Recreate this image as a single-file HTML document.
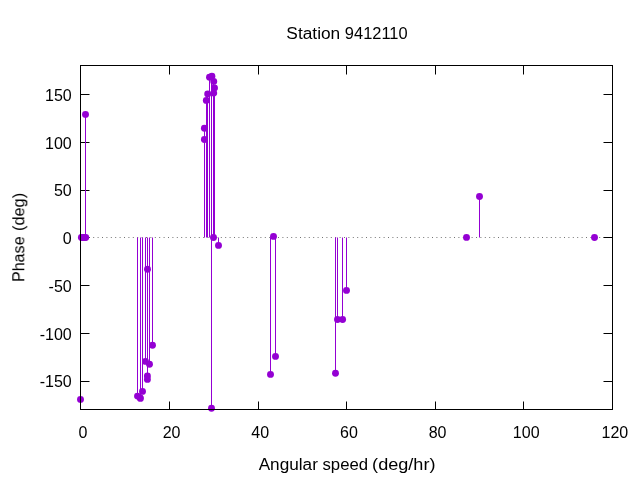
<!DOCTYPE html>
<html><head><meta charset="utf-8"><title>Station 9412110</title>
<style>
html,body{margin:0;padding:0;background:#fff;}
svg{display:block;}
text{font-family:"Liberation Sans",sans-serif;font-size:16px;fill:#000;}
</style></head>
<body>
<svg width="640" height="480" viewBox="0 0 640 480">
<rect x="0" y="0" width="640" height="480" fill="#ffffff"/>
<line x1="80" y1="237.5" x2="612.5" y2="237.5" stroke="#000" stroke-opacity="0.55" stroke-width="1" stroke-dasharray="1 3.4"/>
<g stroke="#000" stroke-width="1" fill="none">
<line x1="80.5" y1="381.5" x2="89.5" y2="381.5"/><line x1="612.5" y1="381.5" x2="603.5" y2="381.5"/>
<line x1="80.5" y1="333.5" x2="89.5" y2="333.5"/><line x1="612.5" y1="333.5" x2="603.5" y2="333.5"/>
<line x1="80.5" y1="285.5" x2="89.5" y2="285.5"/><line x1="612.5" y1="285.5" x2="603.5" y2="285.5"/>
<line x1="80.5" y1="237.5" x2="89.5" y2="237.5"/><line x1="612.5" y1="237.5" x2="603.5" y2="237.5"/>
<line x1="80.5" y1="190.5" x2="89.5" y2="190.5"/><line x1="612.5" y1="190.5" x2="603.5" y2="190.5"/>
<line x1="80.5" y1="142.5" x2="89.5" y2="142.5"/><line x1="612.5" y1="142.5" x2="603.5" y2="142.5"/>
<line x1="80.5" y1="94.5" x2="89.5" y2="94.5"/><line x1="612.5" y1="94.5" x2="603.5" y2="94.5"/>
<line x1="80.5" y1="409.5" x2="80.5" y2="401.5"/><line x1="80.5" y1="65.5" x2="80.5" y2="74.5"/>
<line x1="169.5" y1="409.5" x2="169.5" y2="401.5"/><line x1="169.5" y1="65.5" x2="169.5" y2="74.5"/>
<line x1="258.5" y1="409.5" x2="258.5" y2="401.5"/><line x1="258.5" y1="65.5" x2="258.5" y2="74.5"/>
<line x1="346.5" y1="409.5" x2="346.5" y2="401.5"/><line x1="346.5" y1="65.5" x2="346.5" y2="74.5"/>
<line x1="435.5" y1="409.5" x2="435.5" y2="401.5"/><line x1="435.5" y1="65.5" x2="435.5" y2="74.5"/>
<line x1="523.5" y1="409.5" x2="523.5" y2="401.5"/><line x1="523.5" y1="65.5" x2="523.5" y2="74.5"/>
<line x1="612.5" y1="409.5" x2="612.5" y2="401.5"/><line x1="612.5" y1="65.5" x2="612.5" y2="74.5"/>
</g>
<g stroke="#9400d3" stroke-width="1" fill="none">
<line x1="80.5" y1="237.5" x2="80.5" y2="399.4"/>
<line x1="85.5" y1="237.5" x2="85.5" y2="114.4"/>
<line x1="137.5" y1="237.5" x2="137.5" y2="396.1"/>
<line x1="140.5" y1="237.5" x2="140.5" y2="398.4"/>
<line x1="142.5" y1="237.5" x2="142.5" y2="391.4"/>
<line x1="145.5" y1="237.5" x2="145.5" y2="361.4"/>
<line x1="147.5" y1="237.5" x2="147.5" y2="379.4"/>
<line x1="149.5" y1="237.5" x2="149.5" y2="364.2"/>
<line x1="152.5" y1="237.5" x2="152.5" y2="345.3"/>
<line x1="204.5" y1="237.5" x2="204.5" y2="128.3"/>
<line x1="206.5" y1="237.5" x2="206.5" y2="100.4"/>
<line x1="207.5" y1="237.5" x2="207.5" y2="94.0"/>
<line x1="209.5" y1="237.5" x2="209.5" y2="77.2"/>
<line x1="211.5" y1="237.5" x2="211.5" y2="76.25"/>
<line x1="213.5" y1="237.5" x2="213.5" y2="81.4"/>
<line x1="214.5" y1="237.5" x2="214.5" y2="88.0"/>
<line x1="211.5" y1="237.5" x2="211.5" y2="408.3"/>
<line x1="218.5" y1="237.5" x2="218.5" y2="245.4"/>
<line x1="270.5" y1="237.5" x2="270.5" y2="374.4"/>
<line x1="273.5" y1="237.5" x2="273.5" y2="236.4"/>
<line x1="275.5" y1="237.5" x2="275.5" y2="356.4"/>
<line x1="335.5" y1="237.5" x2="335.5" y2="373.3"/>
<line x1="337.5" y1="237.5" x2="337.5" y2="319.5"/>
<line x1="342.5" y1="237.5" x2="342.5" y2="319.5"/>
<line x1="346.5" y1="237.5" x2="346.5" y2="290.4"/>
<line x1="479.5" y1="237.5" x2="479.5" y2="196.5"/>
</g>
<g fill="#9400d3">
<circle cx="80.5" cy="399.4" r="3.45"/>
<circle cx="85.5" cy="114.4" r="3.45"/>
<circle cx="81.4" cy="237.5" r="3.45"/>
<circle cx="82.9" cy="237.5" r="3.45"/>
<circle cx="84.5" cy="237.5" r="3.45"/>
<circle cx="85.7" cy="237.5" r="3.45"/>
<circle cx="137.5" cy="396.1" r="3.45"/>
<circle cx="140.0" cy="397.6" r="3.45"/>
<circle cx="140.4" cy="398.4" r="3.45"/>
<circle cx="142.5" cy="391.4" r="3.45"/>
<circle cx="145.5" cy="361.4" r="3.45"/>
<circle cx="147.5" cy="269.25" r="3.45"/>
<circle cx="147.4" cy="375.9" r="3.45"/>
<circle cx="147.4" cy="379.4" r="3.45"/>
<circle cx="149.5" cy="364.2" r="3.45"/>
<circle cx="152.5" cy="345.3" r="3.45"/>
<circle cx="204.4" cy="128.3" r="3.45"/>
<circle cx="204.4" cy="139.5" r="3.45"/>
<circle cx="206.3" cy="100.4" r="3.45"/>
<circle cx="207.7" cy="94.0" r="3.45"/>
<circle cx="209.5" cy="77.2" r="3.45"/>
<circle cx="211.9" cy="76.25" r="3.45"/>
<circle cx="213.75" cy="81.4" r="3.45"/>
<circle cx="213.75" cy="93.1" r="3.45"/>
<circle cx="214.5" cy="88.0" r="3.45"/>
<circle cx="213.5" cy="237.5" r="3.45"/>
<circle cx="211.5" cy="408.3" r="3.45"/>
<circle cx="218.5" cy="245.4" r="3.45"/>
<circle cx="270.5" cy="374.4" r="3.45"/>
<circle cx="273.5" cy="236.4" r="3.45"/>
<circle cx="275.5" cy="356.4" r="3.45"/>
<circle cx="335.5" cy="373.3" r="3.45"/>
<circle cx="337.5" cy="319.5" r="3.45"/>
<circle cx="342.6" cy="319.5" r="3.45"/>
<circle cx="346.5" cy="290.4" r="3.45"/>
<circle cx="466.5" cy="237.4" r="3.45"/>
<circle cx="479.5" cy="196.5" r="3.45"/>
<circle cx="594.5" cy="237.5" r="3.45"/>
</g>
<rect x="80.5" y="65.5" width="532.0" height="344.0" stroke="#000" stroke-width="1" fill="none"/>
<g style="filter:grayscale(1)">
<g text-anchor="end" style="font-size:16.5px">
<text x="71.7" y="387.4">-150</text>
<text x="71.7" y="339.7">-100</text>
<text x="71.7" y="291.9">-50</text>
<text x="71.7" y="244.1">0</text>
<text x="71.7" y="196.3">50</text>
<text x="71.7" y="148.5">100</text>
<text x="71.7" y="100.8">150</text>
</g>
<g text-anchor="middle" style="font-size:16.5px">
<text x="82.9" y="437.5">0</text>
<text x="171.6" y="437.5">20</text>
<text x="260.2" y="437.5">40</text>
<text x="348.9" y="437.5">60</text>
<text x="437.6" y="437.5">80</text>
<text x="526.2" y="437.5">100</text>
<text x="614.9" y="437.5">120</text>
</g>
<text x="286.36" y="38.6" textLength="53.85" lengthAdjust="spacingAndGlyphs">Station</text>
<text x="344.88" y="38.6" textLength="62.7" lengthAdjust="spacingAndGlyphs">9412110</text>
<text x="258.66" y="469.6" textLength="59.22" lengthAdjust="spacingAndGlyphs">Angular</text>
<text x="322.47" y="469.6" textLength="45.57" lengthAdjust="spacingAndGlyphs">speed</text>
<text x="372.11" y="469.6" textLength="63.37" lengthAdjust="spacingAndGlyphs">(deg/hr)</text>
<g transform="translate(24.3,0) rotate(-90)">
<text x="-282.14" y="0" textLength="45.77" lengthAdjust="spacingAndGlyphs">Phase</text>
<text x="-231.03" y="0" textLength="38.13" lengthAdjust="spacingAndGlyphs">(deg)</text>
</g>
</g>
</svg>
</body></html>
